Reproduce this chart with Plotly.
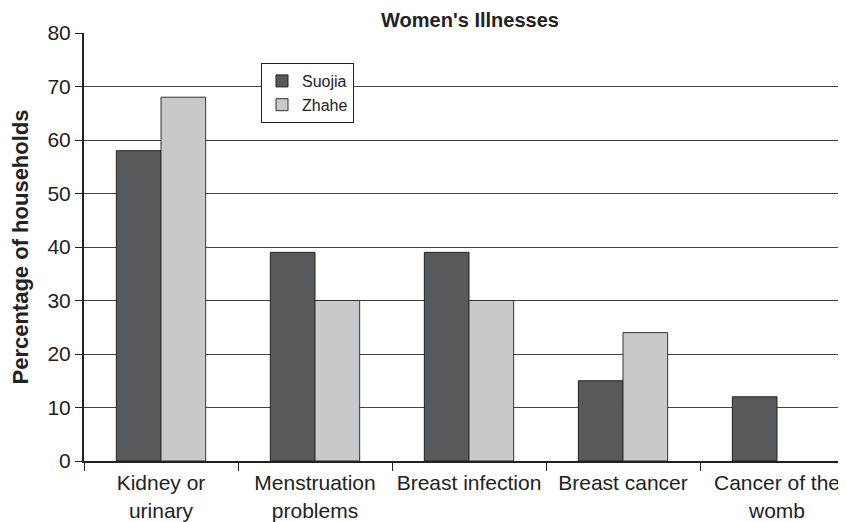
import plotly.graph_objects as go

categories = ["Kidney or<br>urinary", "Menstruation<br>problems", "Breast infection",
              "Breast cancer", "Cancer of the<br>womb"]
suojia = [58, 39, 39, 15, 12]
zhahe = [68, 30, 30, 24, None]
y_ticks = [0, 10, 20, 30, 40, 50, 60, 70, 80]

FONT = "Liberation Sans, Arial, sans-serif"
# the page body has an 8px default margin; compensate so the plot sits where it should
OFF = 8

fig = go.Figure()
fig.add_trace(go.Bar(name="Suojia", x=categories, y=suojia,
                     marker=dict(color="#58595b", line=dict(color="#222222", width=1))))
fig.add_trace(go.Bar(name="Zhahe", x=categories, y=zhahe,
                     marker=dict(color="#c8c9cb", line=dict(color="#333333", width=1))))

fig.update_layout(
    width=846, height=522,
    margin=dict(l=84 - OFF, r=OFF, t=33 - OFF, b=61 + OFF, autoexpand=False),
    paper_bgcolor="white", plot_bgcolor="white",
    barmode="group", bargap=0.42, bargroupgap=0,
    font=dict(family=FONT, color="#222222", size=16),
    title=dict(text="<b>Women's Illnesses</b>", x=(470 - OFF) / 846, xanchor="center",
               y=1 - (20 - OFF) / 522, yanchor="middle", font=dict(size=20, family=FONT)),
    legend=dict(x=(261 - 84) / 762, y=(461 - 63) / 428, xanchor="left", yanchor="top",
                bgcolor="white", bordercolor="#222222", borderwidth=1,
                font=dict(size=16, family=FONT), itemwidth=30),
    showlegend=True,
)
fig.update_xaxes(
    range=[-0.5, 4.448], showline=True, linecolor="#222222", linewidth=2,
    ticks="outside", tickson="boundaries", ticklen=8, tickcolor="#222222",
    tickfont=dict(size=21), ticklabelstandoff=2, showgrid=False, automargin=False,
)
fig.update_yaxes(
    range=[0, 80], tickvals=y_ticks, showline=True, linecolor="#222222", linewidth=2,
    ticks="outside", ticklen=7, tickcolor="#222222", tickfont=dict(size=21),
    showgrid=True, gridcolor="#444444", gridwidth=1, zeroline=False, automargin=False,
    title=dict(text="<b>Percentage of households</b>", font=dict(size=22), standoff=16),
)

fig.write_html("out.html")
